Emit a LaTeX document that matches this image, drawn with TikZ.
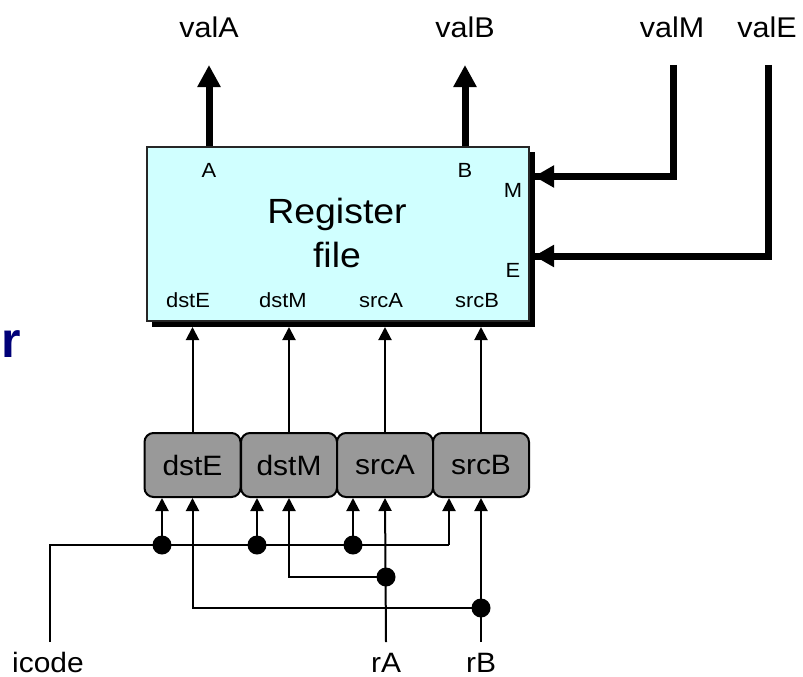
\documentclass[tikz,border=0pt]{standalone}
\usepackage{fontspec}
\setmainfont{Liberation Sans}[FakeStretch=1.07]
\newfontfamily\titlefont{Liberation Sans}
\usetikzlibrary{arrows.meta}
\definecolor{rfcyan}{RGB}{208,255,255}
\definecolor{muxgray}{RGB}{153,153,153}
\definecolor{navytitle}{RGB}{0,0,120}
\tikzset{
  lbl/.style={inner sep=0pt, anchor=base},
  bigbus/.style={line width=7pt, -{Triangle[length=22pt,width=22pt]}},
  bigline/.style={line width=7pt, line join=miter},
  wire/.style={line width=2pt},
  wirearrow/.style={line width=2pt, -{Triangle[length=13pt,width=13pt]}},
  muxbox/.style={draw, line width=2pt, fill=muxgray, rounded corners=9pt,
    minimum width=96pt, minimum height=64pt, inner sep=0pt,
    font=\fontsize{28}{32}\selectfont},
  dot/.style={circle, fill=black, inner sep=0pt, minimum size=19pt},
  portlbl/.style={lbl, font=\fontsize{20.5}{24}\selectfont},
  toplbl/.style={lbl, font=\fontsize{28.5}{33}\selectfont},
  botlbl/.style={lbl, font=\fontsize{28}{32}\selectfont},
}
\begin{document}
\begin{tikzpicture}[x=1pt,y=-1pt]
\useasboundingbox (0,0) rectangle (803,677);

% title fragment
\node[lbl, anchor=base west, text=navytitle] (title) at (1,357)
  {\titlefont\bfseries\fontsize{50}{58}\selectfont r};

% register file with shadow
\fill[black] (152,152) rectangle (535,327);
\node[draw=black!85, line width=1.5pt, fill=rfcyan, minimum width=382pt,
  minimum height=174pt, inner sep=0pt, anchor=north west] (rf) at (146,146) {};
\node[lbl, font=\fontsize{35}{40}\selectfont] (reg) at (337,223) {Register};
\node[lbl, font=\fontsize{35}{40}\selectfont] (file) at (337,267) {file};
\node[portlbl] (pA) at (209,177) {A};
\node[portlbl] (pB) at (465,177) {B};
\node[portlbl] (pM) at (513,197) {M};
\node[portlbl] (pE) at (513,277) {E};
\node[portlbl] (pdstE) at (188,307) {dstE};
\node[portlbl] (pdstM) at (283,307) {dstM};
\node[portlbl] (psrcA) at (381,307) {srcA};
\node[portlbl] (psrcB) at (477,307) {srcB};

% top labels
\node[toplbl] (valA) at (209,38) {valA};
\node[toplbl] (valB) at (465,38) {valB};
\node[toplbl] (valM) at (672,38) {valM};
\node[toplbl] (valE) at (767,38) {valE};

\coordinate (tA) at (209,65);
\coordinate (tB) at (465,65);
\coordinate (sM) at (673,65);
\coordinate (sE) at (768,65);
\coordinate (inM) at (534,176.5);
\coordinate (inE) at (534,256);

\draw[bigbus] (rf.north -| tA) -- (tA);
\draw[bigbus] (rf.north -| tB) -- (tB);
\draw[bigline] (sM) |- (inM);
\draw[bigline, -{Triangle[length=20pt,width=21pt]}] (sM |- inM) -- (inM);
\draw[bigline] (sE) |- (inE);
\draw[bigline, -{Triangle[length=20pt,width=21pt]}] (sE |- inE) -- (inE);

% muxes
\node[muxbox] (mdstE) at (192.5,465) {dstE};
\node[muxbox] (mdstM) at (289,465) {dstM};
\node[muxbox] (msrcA) at (385,465) {srcA};
\node[muxbox] (msrcB) at (481,465) {srcB};

\foreach \m in {mdstE,mdstM,msrcA,msrcB}
  \draw[wirearrow] (\m.north) -- (\m.north |- 0,327);

% bottom labels
\node[botlbl] (icode) at (48,672) {icode};
\node[botlbl] (rA) at (386,672) {rA};
\node[botlbl] (rB) at (481,672) {rB};

\coordinate (icodeEnd) at (50,642);
\coordinate (rAend) at (386,642);
\coordinate (rBend) at (481,642);
\coordinate (j1) at (162,545);
\coordinate (j2) at (257,545);
\coordinate (j3) at (353,545);
\coordinate (jA) at (386,577);
\coordinate (jB) at (481,608);
\coordinate (icTurn) at (449,545);

% icode
\draw[wire] (icodeEnd) |- (icTurn);
\draw[wirearrow] (icTurn) -- (icTurn |- msrcB.south);
\draw[wirearrow] (j1) -- (j1 |- mdstE.south);
\draw[wirearrow] (j2) -- (j2 |- mdstM.south);
\draw[wirearrow] (j3) -- (j3 |- msrcA.south);
% rA
\draw[wirearrow] (rAend) -- (msrcA.south);
\draw[wirearrow] (jA) -| (mdstM.south);
% rB
\draw[wirearrow] (rBend) -- (msrcB.south);
\draw[wirearrow] (jB) -| (mdstE.south);

\foreach \j in {j1,j2,j3,jA,jB}
  \node[dot] at (\j) {};
\end{tikzpicture}
\end{document}
